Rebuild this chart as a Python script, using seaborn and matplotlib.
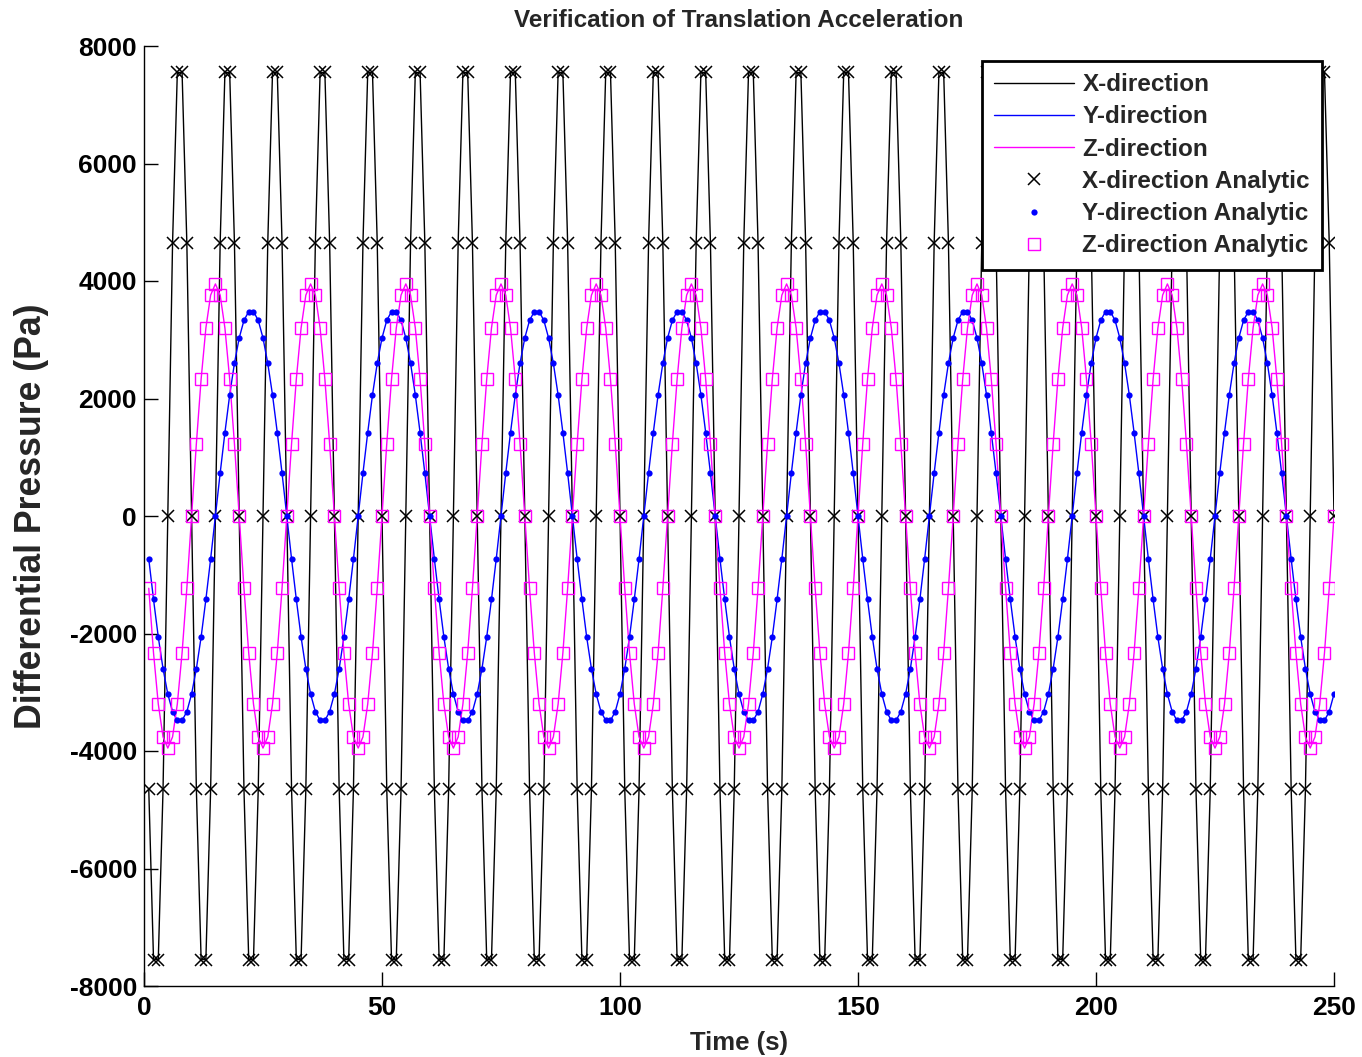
import numpy as np
import pandas as pd
import matplotlib
matplotlib.use("Agg")
import matplotlib.pyplot as plt
import seaborn as sns

time_start = 1
time_end = 250
x_cycle = [-4650, -7550, -7550, -4650, 0, 4650, 7550, 7550, 4650, 0]
y_cycle = [-730, -1420, -2060, -2600, -3030, -3330, -3480, -3480, -3330, -3030,
           -2600, -2060, -1420, -730, 0, 730, 1420, 2060, 2600, 3030,
           3330, 3480, 3480, 3330, 3030, 2600, 2060, 1420, 730, 0]
z_cycle = [-1230, -2330, -3200, -3760, -3950, -3760, -3200, -2330, -1230, 0,
           1230, 2330, 3200, 3760, 3950, 3760, 3200, 2330, 1230, 0]

x_ticks = [0, 50, 100, 150, 200, 250]
y_ticks = [-8000, -6000, -4000, -2000, 0, 2000, 4000, 6000, 8000]

title = "Verification of Translation Acceleration"
xlabel = "Time (s)"
ylabel = "Differential Pressure (Pa)"
labels_line = ["X-direction", "Y-direction", "Z-direction"]
labels_mark = ["X-direction Analytic", "Y-direction Analytic", "Z-direction Analytic"]

t = np.arange(time_start, time_end + 1)
n = len(t)
xs = np.tile(x_cycle, n // len(x_cycle) + 1)[:n]
ys = np.tile(y_cycle, n // len(y_cycle) + 1)[:n]
zs = np.tile(z_cycle, n // len(z_cycle) + 1)[:n]
df = pd.DataFrame({"t": t, "X": xs, "Y": ys, "Z": zs})

sns.set_theme(style="white")
plt.rcParams["font.family"] = ["Liberation Sans", "DejaVu Sans"]

fig = plt.figure(figsize=(13.62, 10.57), dpi=100)
ax = fig.add_axes([144 / 1362, 1 - 986 / 1057, 1190 / 1362, 940 / 1057])

lw = 1.0
sns.lineplot(data=df, x="t", y="X", color="black", lw=lw, label=labels_line[0],
             ax=ax, estimator=None, sort=False)
sns.lineplot(data=df, x="t", y="Y", color="#0000ff", lw=lw, label=labels_line[1],
             ax=ax, estimator=None, sort=False)
sns.lineplot(data=df, x="t", y="Z", color="#ff00ff", lw=lw, label=labels_line[2],
             ax=ax, estimator=None, sort=False)
sns.lineplot(data=df, x="t", y="X", color="black", linestyle="none", marker="x",
             markersize=8, markeredgewidth=1.1, markeredgecolor="black",
             label=labels_mark[0], ax=ax, estimator=None, sort=False)
sns.lineplot(data=df, x="t", y="Y", color="#0000ff", linestyle="none", marker="o",
             markersize=4.5, markeredgewidth=0, markerfacecolor="#0000ff",
             label=labels_mark[1], ax=ax, estimator=None, sort=False)
sns.lineplot(data=df, x="t", y="Z", color="#ff00ff", linestyle="none", marker="s",
             markersize=9, markeredgewidth=1.0, markerfacecolor="none",
             markeredgecolor="#ff00ff", label=labels_mark[2],
             ax=ax, estimator=None, sort=False)

ax.set_xlim(0, 250)
ax.set_ylim(-8000, 8000)
ax.set_xticks(x_ticks)
ax.set_yticks(y_ticks)
ax.set_xticklabels([str(v) for v in x_ticks], fontsize=19, fontweight="bold")
ax.set_yticklabels([str(v) for v in y_ticks], fontsize=19, fontweight="bold")
ax.tick_params(direction="in", length=10, width=1, colors="black", pad=5,
               left=True, bottom=True)
ax.tick_params(axis="x", pad=7)
for side in ["top", "right"]:
    ax.spines[side].set_visible(False)
for side in ["left", "bottom"]:
    ax.spines[side].set_color("black")
    ax.spines[side].set_linewidth(1.0)

ax.set_title(title, fontsize=17.5, fontweight="bold", pad=14)
ax.set_xlabel(xlabel, fontsize=18.5, fontweight="bold", labelpad=8)
ax.set_ylabel(ylabel, fontsize=25.7, fontweight="bold", labelpad=15)

leg = ax.legend(loc="upper right", bbox_to_anchor=(0.99, 0.984), borderaxespad=0,
                fancybox=False, framealpha=1, edgecolor="black", handlelength=3.3,
                labelspacing=0.38, prop={"size": 17.5, "weight": "bold"},
                borderpad=0.5, handletextpad=0.35)
leg.get_frame().set_linewidth(2)

fig.savefig("out.png", dpi=100, facecolor="white")
